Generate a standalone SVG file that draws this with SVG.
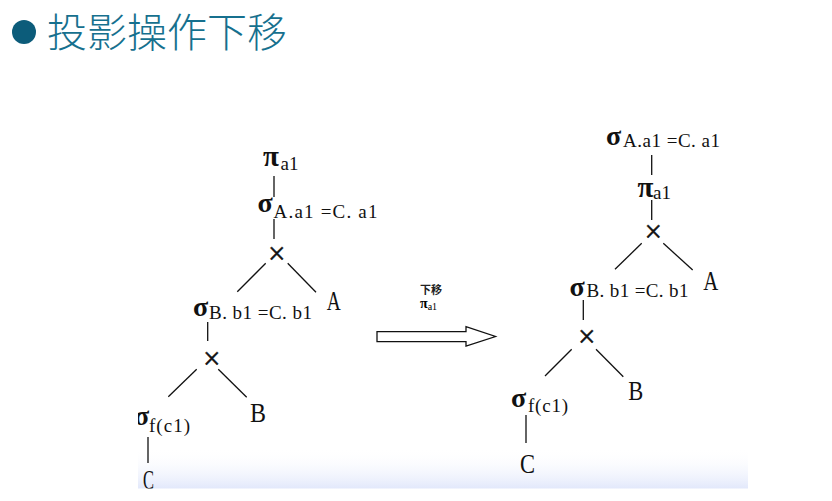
<svg xmlns="http://www.w3.org/2000/svg" width="832" height="501" viewBox="0 0 832 501">
<style>
.title{font-family:"Noto Sans CJK SC","Noto Sans CJK JP",sans-serif;font-size:40px;font-weight:300;fill:#16708e}
.sym{font-family:"Liberation Serif","DejaVu Serif",serif;font-size:28px;font-weight:bold;fill:#111}
.pi{font-family:"Liberation Serif","DejaVu Serif",serif;font-size:29px;font-weight:bold;fill:#111}
.sub{font-family:"Liberation Serif","DejaVu Serif",serif;font-size:19px;fill:#111}
.leaf{font-family:"Liberation Serif","DejaVu Serif",serif;font-size:27px;fill:#111}
.op{font-family:"Liberation Serif","DejaVu Serif",serif;font-size:31px;fill:#111;stroke:#111;stroke-width:0.5;text-anchor:middle}
.edge{stroke:#111;stroke-width:1.3;fill:none}
.small{font-family:"Noto Sans CJK SC","Noto Sans CJK JP",sans-serif;font-size:11px;font-weight:bold;fill:#222;text-anchor:middle}
</style>
<defs>
<linearGradient id="band" x1="0" y1="0" x2="0" y2="1">
<stop offset="0" stop-color="#ffffff" stop-opacity="0"/>
<stop offset="1" stop-color="#e2e8fb"/>
</linearGradient>
<clipPath id="pic"><rect x="138" y="100" width="610" height="388.5"/></clipPath>
</defs>
<rect width="832" height="501" fill="#fff"/>
<g id="title">
<circle cx="24" cy="32" r="12" fill="#0c5c7a"/>
<text class="title" x="47" y="47">投影操作下移</text>
</g>
<rect x="138" y="448" width="610" height="40.5" fill="url(#band)"/>
<g clip-path="url(#pic)">
<g id="connectors">
<line class="edge" x1="274" y1="176" x2="274" y2="197"/>
<line class="edge" x1="274" y1="219" x2="274" y2="239"/>
<line class="edge" x1="265.7" y1="263.3" x2="237.3" y2="291.7"/>
<line class="edge" x1="287.7" y1="263.3" x2="316" y2="292.3"/>
<line class="edge" x1="207.7" y1="322" x2="207.7" y2="341"/>
<line class="edge" x1="196.7" y1="369.3" x2="168.3" y2="396.7"/>
<line class="edge" x1="218.3" y1="369.3" x2="246.7" y2="397.3"/>
<line class="edge" x1="148" y1="437" x2="148" y2="463"/>
<line class="edge" x1="651.7" y1="155" x2="651.7" y2="175"/>
<line class="edge" x1="651.7" y1="200" x2="651.7" y2="220"/>
<line class="edge" x1="641.7" y1="243.3" x2="615" y2="269.3"/>
<line class="edge" x1="663.3" y1="243.3" x2="692.7" y2="270"/>
<line class="edge" x1="583.3" y1="300" x2="583.3" y2="320"/>
<line class="edge" x1="571.7" y1="349.3" x2="545" y2="376"/>
<line class="edge" x1="596" y1="349.3" x2="623.3" y2="376.7"/>
<line class="edge" x1="526" y1="415" x2="526" y2="443"/>
<polygon class="edge" fill="#fff" points="377,331.7 466,331.7 466,326.7 495.5,336.5 466,346 466,341.7 377,341.7"/>
</g>
<g id="L-pi"><text x="263" y="165.5"><tspan class="pi">π</tspan><tspan class="sub" x="280.5" y="169.5">a1</tspan></text></g>
<g id="L-sigmaA"><text x="257.5" y="212"><tspan class="sym">σ</tspan><tspan class="sub" x="273.5" y="218" textLength="104">A.a1 =C. a1</tspan></text></g>
<g id="L-cross1"><text class="op" x="276.7" y="263.5">×</text></g>
<g id="L-A"><text class="leaf" x="326.7" y="310" textLength="14" lengthAdjust="spacingAndGlyphs">A</text></g>
<g id="L-sigmaB"><text x="193" y="316"><tspan class="sym">σ</tspan><tspan class="sub" x="209" y="319" textLength="103">B. b1 =C. b1</tspan></text></g>
<g id="L-cross2"><text class="op" x="211.7" y="368.5">×</text></g>
<g id="L-B"><text class="leaf" x="250" y="422" textLength="16" lengthAdjust="spacingAndGlyphs">B</text></g>
<g id="L-sigmaF"><text x="134" y="425"><tspan class="sym">σ</tspan><tspan class="sub" x="149" y="431.5" textLength="41">f(c1)</tspan></text></g>
<g id="L-C"><text class="leaf" x="143" y="489" textLength="11" lengthAdjust="spacingAndGlyphs">C</text></g>
<g id="arrow-label"><text class="small" x="431" y="294">下移</text><text x="420" y="308"><tspan style="font-family:'Liberation Serif',serif;font-size:14px;font-weight:bold">π</tspan><tspan style="font-family:'Liberation Serif',serif;font-size:10px" dy="2">a1</tspan></text></g>
<g id="R-sigmaA"><text x="606" y="144.5"><tspan class="sym">σ</tspan><tspan class="sub" x="623" y="146.5" textLength="97">A.a1 =C. a1</tspan></text></g>
<g id="R-pi"><text x="637.5" y="197"><tspan class="pi">π</tspan><tspan class="sub" x="653" y="198.5">a1</tspan></text></g>
<g id="R-cross1"><text class="op" x="653.3" y="242">×</text></g>
<g id="R-A"><text class="leaf" x="703.3" y="290" textLength="15" lengthAdjust="spacingAndGlyphs">A</text></g>
<g id="R-sigmaB"><text x="569.5" y="296"><tspan class="sym">σ</tspan><tspan class="sub" x="586.5" y="297" textLength="102">B. b1 =C. b1</tspan></text></g>
<g id="R-cross2"><text class="op" x="586.7" y="347">×</text></g>
<g id="R-B"><text class="leaf" x="628.3" y="400" textLength="15" lengthAdjust="spacingAndGlyphs">B</text></g>
<g id="R-sigmaF"><text x="511" y="407"><tspan class="sym">σ</tspan><tspan class="sub" x="528" y="411.5" textLength="40">f(c1)</tspan></text></g>
<g id="R-C"><text class="leaf" x="520" y="473" textLength="15" lengthAdjust="spacingAndGlyphs">C</text></g>
</g>
</svg>
